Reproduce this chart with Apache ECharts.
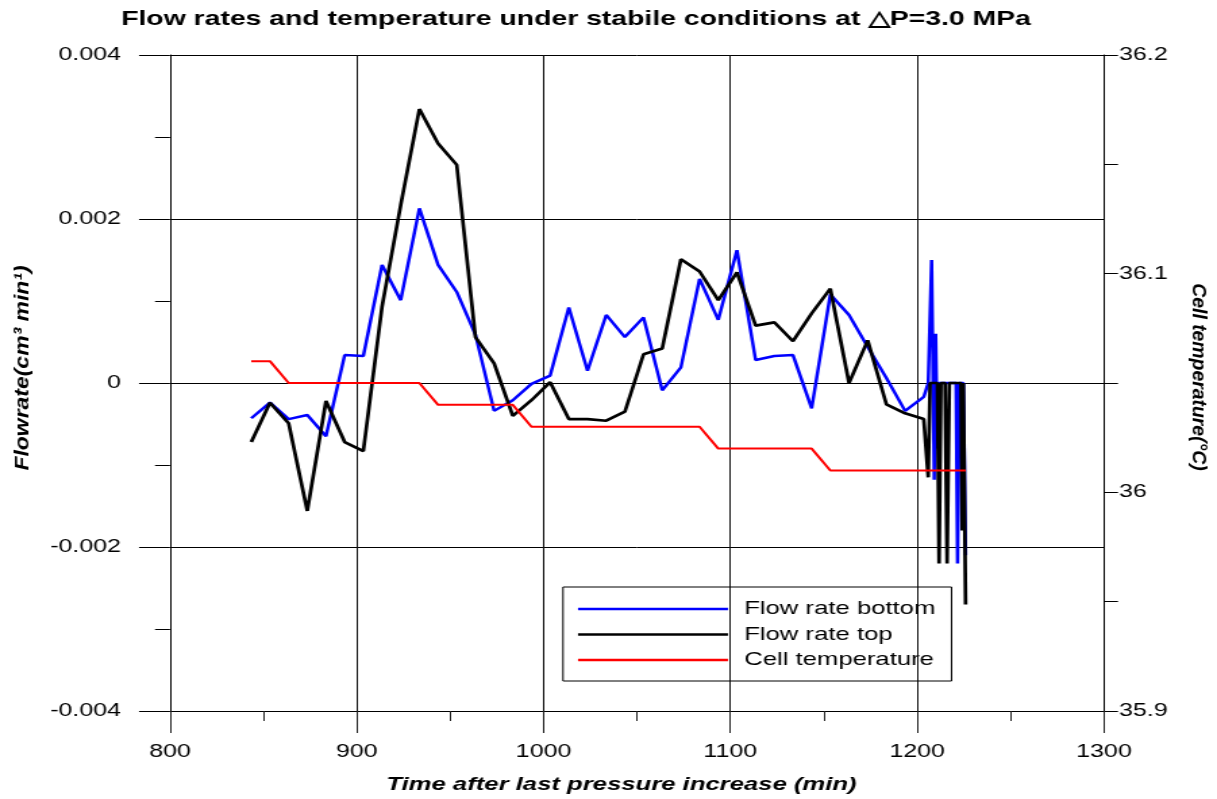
<!DOCTYPE html>
<html>
<head>
<meta charset="utf-8">
<script src="https://cdn.jsdelivr.net/npm/echarts@6/dist/echarts.min.js"></script>
<style>
  html, body { margin: 0; padding: 0; background: #fff; overflow: hidden; }
  #chart { position: absolute; left: 0; top: 0; transform-origin: 0 0; }
</style>
</head>
<body>
<div id="chart"></div>
<script>
// ---- data ----------------------------------------------------------------
const xTicks = [800, 900, 1000, 1100, 1200, 1300];
const flowTicks = [-0.004, -0.002, 0, 0.002, 0.004];
const tempTicks = [35.9, 36.0, 36.1, 36.2];

const seriesNames = ['Flow rate bottom', 'Flow rate top', 'Cell temperature'];

const bottomTime = [843.5, 853.5, 863.5, 873.5, 883.5, 893.5, 903.5, 913.5, 923.5, 933.5,
  943.5, 953.5, 963.5, 973.5, 983.5, 993.5, 1003.5, 1013.5, 1023.5, 1033.5,
  1043.5, 1053.5, 1063.5, 1073.5, 1083.5, 1093.5, 1103.5, 1113.5, 1123.5, 1133.5,
  1143.5, 1153.5, 1163.5, 1173.5, 1183.5, 1193.5, 1203.5,
  1205.9, 1207.7, 1209.1, 1209.9, 1210.8, 1211.4, 1220.8, 1221.6, 1222.6, 1224.7, 1225.9];
const bottomFlow = [-0.00043, -0.00024, -0.00044, -0.00039, -0.00065, 0.00034, 0.00033, 0.00144, 0.00101, 0.00213,
  0.00144, 0.00111, 0.00059, -0.00034, -0.00021, -0.00001, 0.00009, 0.00092, 0.00015, 0.00083,
  0.00056, 0.00080, -0.00009, 0.00019, 0.00127, 0.00077, 0.00162, 0.00028, 0.00033, 0.00034,
  -0.00031, 0.00108, 0.00083, 0.00044, 0.00006, -0.00034, -0.00017,
  0, 0.0015, -0.00118, 0.0006, -0.0008, 0, 0, -0.0022, 0, 0, -0.0021];

const topTime = [843.5, 853.5, 863.5, 873.5, 883.5, 893.5, 903.5, 913.5, 923.5, 933.5,
  943.5, 953.5, 963.5, 973.5, 983.5, 993.5, 1003.5, 1013.5, 1023.5, 1033.5,
  1043.5, 1053.5, 1063.5, 1073.5, 1083.5, 1093.5, 1103.5, 1113.5, 1123.5, 1133.5,
  1143.5, 1153.5, 1163.5, 1173.5, 1183.5, 1193.5, 1203.5,
  1205.9, 1206.9, 1210.8, 1211.7, 1212.7, 1214.9, 1216.0, 1217.2, 1223.4, 1224.1, 1224.7, 1225.9];
const topFlow = [-0.00072, -0.00024, -0.00049, -0.00156, -0.00022, -0.00072, -0.00083, 0.00093, 0.00217, 0.00334,
  0.00292, 0.00266, 0.00056, 0.00024, -0.00040, -0.00021, 0.00001, -0.00044, -0.00044, -0.00046,
  -0.00035, 0.00035, 0.00042, 0.00151, 0.00136, 0.00101, 0.00135, 0.00070, 0.00074, 0.00051,
  0.00085, 0.00115, 0.0, 0.00052, -0.00026, -0.00037, -0.00044,
  -0.00115, 0, 0, -0.0022, 0, 0, -0.0022, 0, 0, -0.0018, 0, -0.0027];

const tempTime = [843.5, 853.5, 863.5, 873.5, 883.5, 893.5, 903.5, 913.5, 923.5, 933.5,
  943.5, 953.5, 963.5, 973.5, 983.5, 993.5, 1003.5, 1013.5, 1023.5, 1033.5,
  1043.5, 1053.5, 1063.5, 1073.5, 1083.5, 1093.5, 1103.5, 1113.5, 1123.5, 1133.5,
  1143.5, 1153.5, 1163.5, 1173.5, 1183.5, 1193.5, 1203.5, 1225.9];
const tempValue = [36.06, 36.06, 36.05, 36.05, 36.05, 36.05, 36.05, 36.05, 36.05, 36.05,
  36.04, 36.04, 36.04, 36.04, 36.04, 36.03, 36.03, 36.03, 36.03, 36.03,
  36.03, 36.03, 36.03, 36.03, 36.03, 36.02, 36.02, 36.02, 36.02, 36.02,
  36.02, 36.01, 36.01, 36.01, 36.01, 36.01, 36.01, 36.01];

// ---- layout ----------------------------------------------------------------
// The drawing is laid out narrower and widened with a CSS scaleX,
// which gives the wide lettering and the heavier vertical strokes.
const PAGE_W = 1217, PAGE_H = 799;
const CHART_W = 901;
const STRETCH = PAGE_W / CHART_W;
const px = v => v / STRETCH;          // page x -> chart x

const el = document.getElementById('chart');
el.style.width = CHART_W + 'px';
el.style.height = PAGE_H + 'px';
el.style.transform = 'scaleX(' + STRETCH + ')';

const FONT = '"Liberation Sans", Arial, Helvetica, sans-serif';
const pairs = (xs, ys) => xs.map((x, i) => [x, ys[i]]);
const plain = v => String(v);

const chart = echarts.init(el, null, { renderer: 'canvas', width: CHART_W, height: PAGE_H });

const plotLeft = px(170), plotRight = px(1104);

chart.setOption({
  animation: false,
  backgroundColor: '#fff',
  grid: { left: plotLeft, right: CHART_W - plotRight, top: 55, bottom: PAGE_H - 711, containLabel: false },
  legend: {
    data: seriesNames,
    orient: 'vertical',
    left: px(563), top: 587,
    padding: [12.5, 12, 11.5, px(578) - px(563)],
    itemWidth: px(728) - px(578),
    itemHeight: 2.5,
    itemGap: 6.5,
    icon: 'rect',
    borderColor: '#000', borderWidth: 1,
    backgroundColor: 'transparent',
    textStyle: { fontFamily: FONT, fontSize: 19, color: '#000', padding: [0, 0, 0, 7] }
  },
  xAxis: {
    type: 'value',
    min: xTicks[0], max: xTicks[xTicks.length - 1], interval: 100,
    axisLine: { show: true, onZero: false, lineStyle: { color: '#000', width: 1 } },
    axisTick: { show: true, inside: false, length: 22, lineStyle: { color: '#222' } },
    minorTick: { show: true, splitNumber: 2, length: 10, lineStyle: { color: '#222' } },
    splitLine: { show: true, lineStyle: { color: '#111', width: 1 } },
    axisLabel: { margin: 31, fontFamily: FONT, fontSize: 18.5, color: '#000', formatter: plain }
  },
  yAxis: [{
    type: 'value', position: 'left',
    min: flowTicks[0], max: flowTicks[flowTicks.length - 1], interval: 0.002,
    axisLine: { show: true, onZero: false, lineStyle: { color: '#000', width: 1 } },
    axisTick: { show: true, inside: false, length: px(31), lineStyle: { color: '#000' } },
    minorTick: { show: true, splitNumber: 2, length: px(15), lineStyle: { color: '#000' } },
    splitLine: { show: true, lineStyle: { color: '#000', width: 1 } },
    axisLabel: { margin: plotLeft - px(121), fontFamily: FONT, fontSize: 18.5, color: '#000', formatter: plain }
  }, {
    type: 'value', position: 'right',
    min: tempTicks[0], max: tempTicks[tempTicks.length - 1], interval: 0.1,
    axisLine: { show: true, onZero: false, lineStyle: { color: '#000', width: 1 } },
    axisTick: { show: true, inside: false, length: px(14), lineStyle: { color: '#000' } },
    minorTick: { show: true, splitNumber: 2, length: px(14), lineStyle: { color: '#000' } },
    splitLine: { show: false },
    axisLabel: { margin: px(1119) - plotRight, fontFamily: FONT, fontSize: 18.5, color: '#000' }
  }],
  series: [{
    name: seriesNames[0], type: 'line', yAxisIndex: 0,
    data: pairs(bottomTime, bottomFlow),
    showSymbol: false, symbol: 'none', color: '#0000ff',
    lineStyle: { color: '#0000ff', width: 2.5 }, z: 3
  }, {
    name: seriesNames[1], type: 'line', yAxisIndex: 0,
    data: pairs(topTime, topFlow),
    showSymbol: false, symbol: 'none', color: '#000000',
    lineStyle: { color: '#000000', width: 2.7 }, z: 4
  }, {
    name: seriesNames[2], type: 'line', yAxisIndex: 1,
    data: pairs(tempTime, tempValue),
    showSymbol: false, symbol: 'none', color: '#ff0000',
    lineStyle: { color: '#ff0000', width: 2 }, z: 5
  }],
  graphic: [{
    type: 'text', x: px(576), y: 19,
    style: {
      text: 'Flow rates and temperature under stabile conditions at \u25B3P=3.0 MPa',
      fontFamily: FONT, fontSize: 21, fontWeight: 'bold', fill: '#000',
      align: 'center', verticalAlign: 'middle', textAlign: 'center', textVerticalAlign: 'middle'
    }
  }, {
    type: 'text', x: px(621.5), y: 785,
    style: {
      text: 'Time after last pressure increase (min)',
      fontFamily: FONT, fontSize: 19, fontWeight: 'bold', fontStyle: 'italic', fill: '#000',
      align: 'center', verticalAlign: 'middle', textAlign: 'center', textVerticalAlign: 'middle'
    }
  }, {
    type: 'text', x: px(23), y: 368, rotation: Math.PI / 2, scaleX: 1.48,
    style: {
      text: 'Flowrate(cm\u00B3 min\u00B9)',
      fontFamily: FONT, fontSize: 15.5, fontWeight: 'bold', fontStyle: 'italic', fill: '#000',
      align: 'center', verticalAlign: 'middle', textAlign: 'center', textVerticalAlign: 'middle'
    }
  }, {
    type: 'text', x: px(1199), y: 377, rotation: -Math.PI / 2, scaleX: 1.25,
    style: {
      text: 'Cell temperature(\u00B0C)',
      fontFamily: FONT, fontSize: 15.5, fontWeight: 'bold', fontStyle: 'italic', fill: '#000',
      align: 'center', verticalAlign: 'middle', textAlign: 'center', textVerticalAlign: 'middle'
    }
  }]
});
</script>
</body>
</html>
